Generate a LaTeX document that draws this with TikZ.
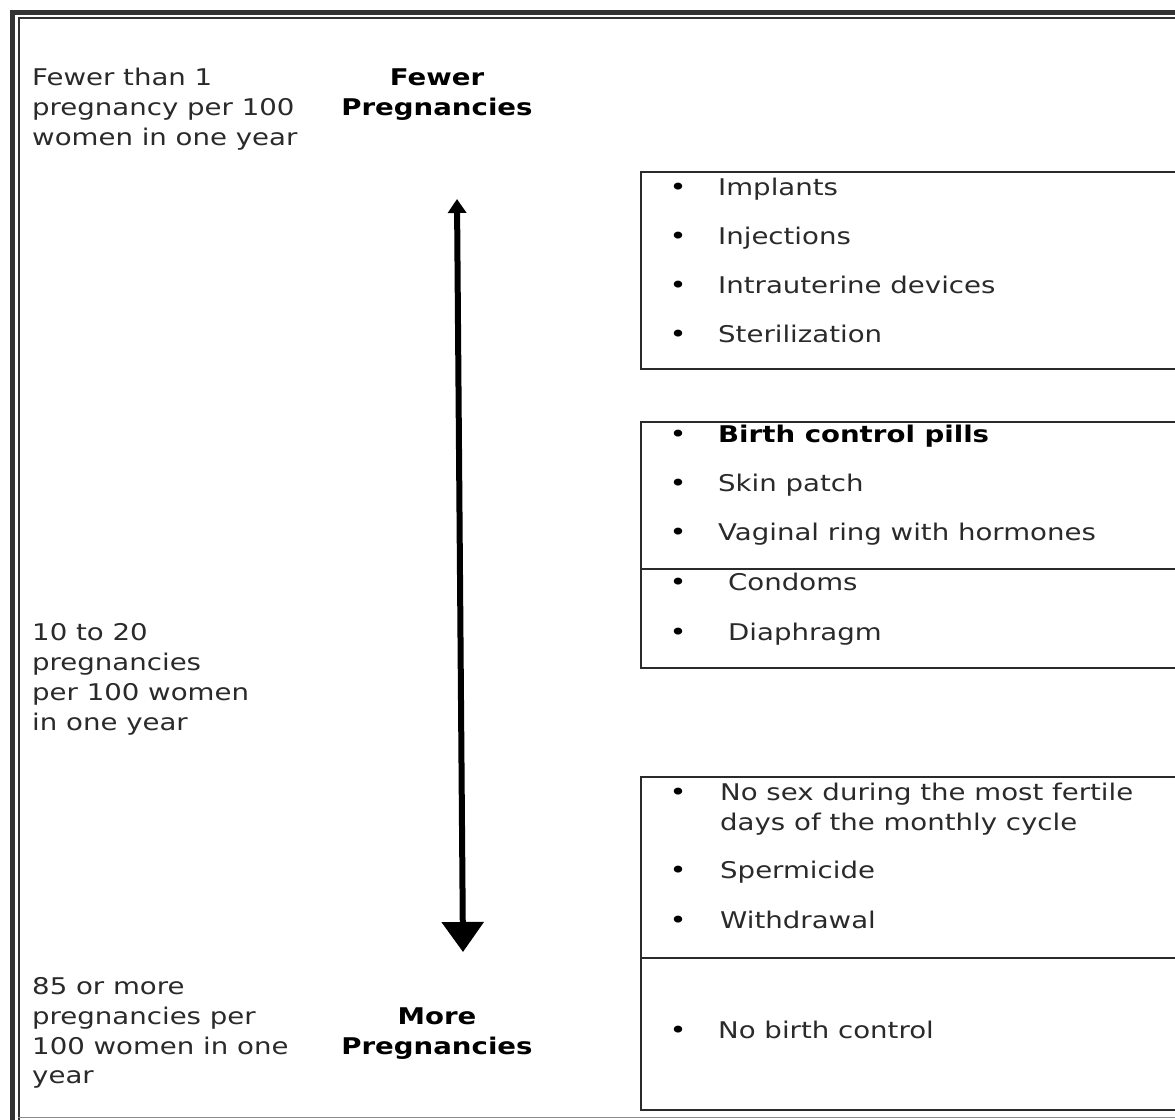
\documentclass[tikz,border=0pt]{standalone}
\usepackage{fontspec}
\setmainfont{DejaVu Sans}[FakeStretch=1.2]
\usetikzlibrary{arrows.meta}
\definecolor{ink}{HTML}{2A2A2A}
\begin{document}
\begin{tikzpicture}[x=1pt,y=-1pt,
  txt/.style={anchor=base west,inner sep=0pt,text=ink,font=\fontsize{23}{30}\selectfont},
  btxt/.style={anchor=base,inner sep=0pt,text=black,font=\fontsize{23}{30}\selectfont\bfseries},
  bul/.style={anchor=base,inner sep=0pt,text=black,font=\fontsize{24}{30}\selectfont},
  boxline/.style={draw=ink,line width=1.6pt},
  frame/.style={draw=black!80}]
\useasboundingbox (0,0) rectangle (1175,1119);
\clip (0,0) rectangle (1175,1119);
\fill[white] (0,0) rectangle (1175,1119);
% outer frame
\draw[frame,line width=5pt] (12,1125) -- (12,12) -- (1185,12);
\draw[frame,line width=2pt] (18.5,1125) -- (18.5,18) -- (1185,18);
\draw[black!45,line width=1pt] (18,1117.5) -- (1185,1117.5);
% left texts
\node[txt] (l1a) at (32,85) {Fewer than 1};
\node[txt] (l1b) at (32,115) {pregnancy per 100};
\node[txt] (l1c) at (32,145) {women in one year};
\node[txt] (l2a) at (32,640) {10 to 20};
\node[txt] (l2b) at (32,670) {pregnancies};
\node[txt] (l2c) at (32,700) {per 100 women};
\node[txt] (l2d) at (32,730) {in one year};
\node[txt] (l3a) at (32,994) {85 or more};
\node[txt] (l3b) at (32,1024) {pregnancies per};
\node[txt] (l3c) at (32,1054) {100 women in one};
\node[txt] (l3d) at (32,1083) {year};
% bold labels
\node[btxt] (fa) at (437,85) {Fewer};
\node[btxt] (fb) at (437,115) {Pregnancies};
\node[btxt] (ma) at (437,1024) {More};
\node[btxt] (mb) at (437,1054) {Pregnancies};
% arrow
\coordinate (atop) at (457,199);
\coordinate (abot) at (463,952);
\draw[line width=6pt,{Triangle[width=18pt,length=14pt]}-{Triangle[width=41pt,length=30pt]}] (atop) -- (abot);
% boxes
\draw[boxline] (1190,172) -- (641,172) -- (641,369) -- (1190,369);
\draw[boxline] (1190,422) -- (641,422) -- (641,668) -- (1190,668);
\draw[boxline] (641,569) -- (1190,569);
\draw[boxline] (1190,777) -- (641,777) -- (641,1110) -- (1190,1110);
\draw[boxline] (641,958) -- (1190,958);
% box 1
\foreach \y in {195,244,293,342} \node[bul] at (678,\y) {•};
\node[txt] (i1) at (718,195) {Implants};
\node[txt] (i2) at (718,244) {Injections};
\node[txt] (i3) at (718,293) {Intrauterine devices};
\node[txt] (i4) at (718,342) {Sterilization};
% box 2
\foreach \y in {442,491,540,590,640} \node[bul] at (678,\y) {•};
\node[txt,font=\fontsize{23}{30}\selectfont\bfseries,text=black] (p1) at (718,442) {Birth control pills};
\node[txt] (p2) at (718,491) {Skin patch};
\node[txt] (p3) at (718,540) {Vaginal ring with hormones};
\node[txt] (p4) at (728,590) {Condoms};
\node[txt] (p5) at (728,640) {Diaphragm};
% box 3
\foreach \y in {800,878,928,1038} \node[bul] at (678,\y) {•};
\node[txt] (n1) at (720,800) {No sex during the most fertile};
\node[txt] (n1b) at (720,830) {days of the monthly cycle};
\node[txt] (n2) at (720,878) {Spermicide};
\node[txt] (n3) at (720,928) {Withdrawal};
\node[txt] (n4) at (718,1038) {No birth control};
\end{tikzpicture}
\end{document}
